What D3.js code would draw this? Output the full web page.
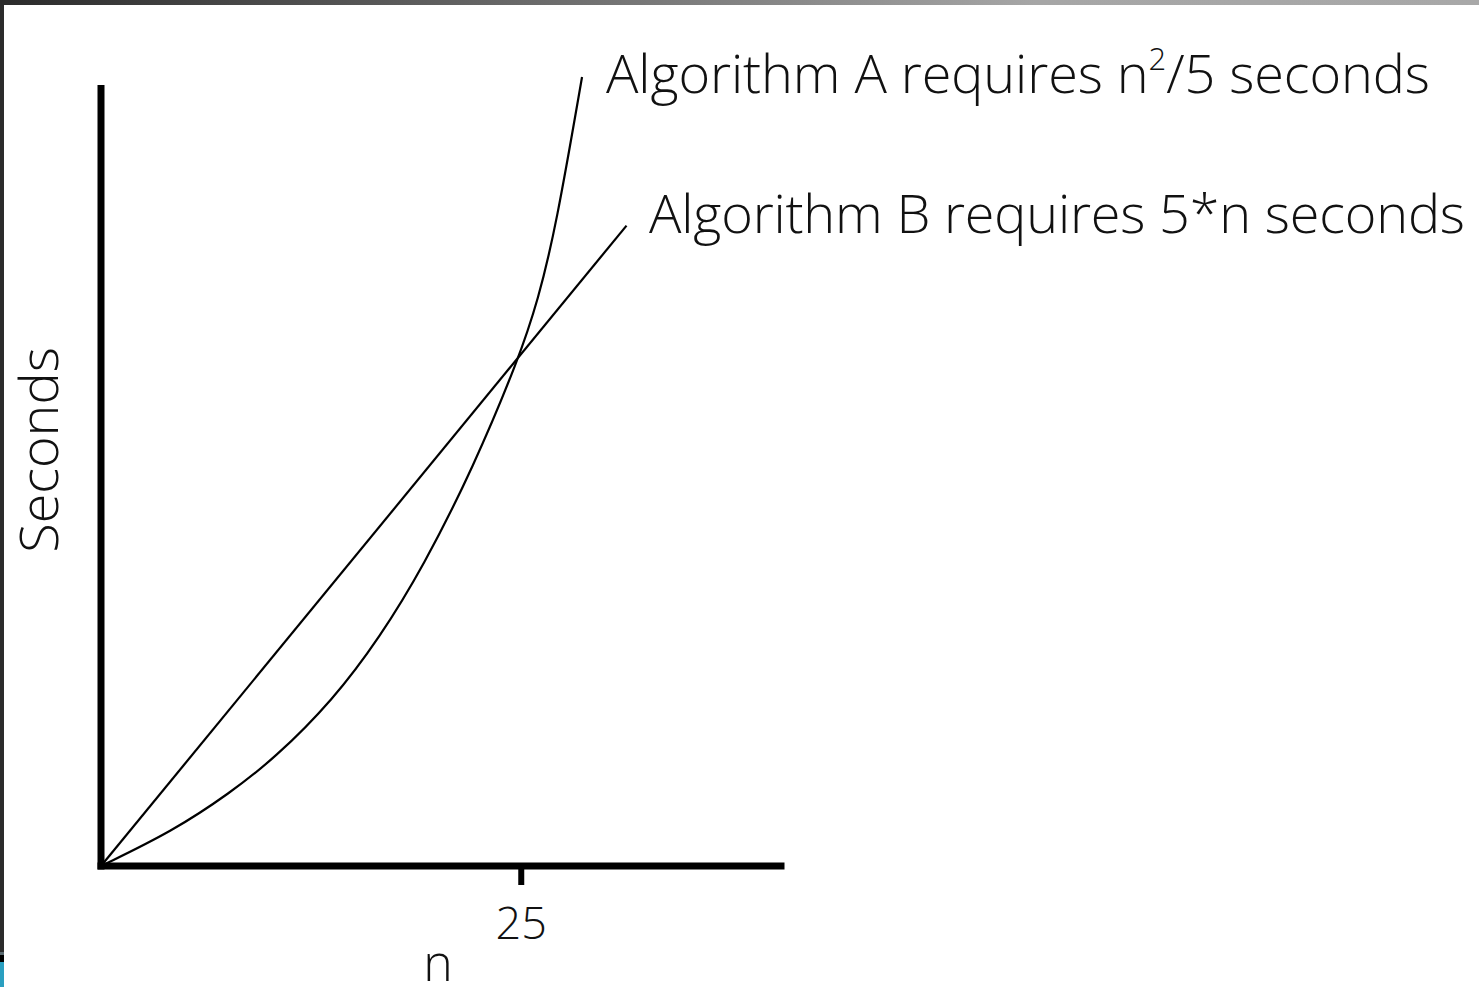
<!DOCTYPE html>
<html>
<head>
<meta charset="utf-8">
<script src="https://cdn.jsdelivr.net/npm/d3@7/dist/d3.min.js"></script>
<style>
  html, body { margin: 0; padding: 0; background: #fff; }
  svg { display: block; }
  text { font-family: "Open Sans", "Segoe UI", sans-serif; font-weight: 300; fill: #111; }
</style>
</head>
<body>
<svg id="chart" width="1479" height="987"></svg>
<script>
// Input size n and running time in seconds
const nA = [0, 4.29, 7.68, 10.36, 13.82, 16.62, 19.18, 22.16, 24.90, 26.03, 27.10, 28.65];
const secondsA = [0, 8.55, 17.84, 26.39, 40.57, 55.96, 73.07, 97.26, 124.14, 138.32, 156.16, 192.82];
const nB = [0, 31.3];
const secondsB = [0, 156.5];
const xTicks = [25];
const labelA = ["Algorithm A requires n", "2", "/5 seconds"];
const labelB = "Algorithm B requires 5*n seconds";
const xTitle = "n";
const yTitle = "Seconds";

const svg = d3.select("#chart");
const W = 1479, H = 987;

// window frame
const grad = svg.append("defs").append("linearGradient")
  .attr("id", "topbar").attr("x1", "0").attr("x2", "1");
grad.append("stop").attr("offset", "0").attr("stop-color", "#2b2b2b");
grad.append("stop").attr("offset", "0.7").attr("stop-color", "#a6a6a6");
grad.append("stop").attr("offset", "1").attr("stop-color", "#a8a8a8");
svg.append("rect").attr("x", 0).attr("y", 0).attr("width", W).attr("height", 5).attr("fill", "url(#topbar)");
svg.append("rect").attr("x", 0).attr("y", 0).attr("width", 4).attr("height", 952).attr("fill", "#2b2b2b");
svg.append("rect").attr("x", 0).attr("y", 952).attr("width", 4).attr("height", 3).attr("fill", "#5a6a70");
svg.append("rect").attr("x", 0).attr("y", 955).attr("width", 4).attr("height", 7).attr("fill", "#000");
svg.append("rect").attr("x", 0).attr("y", 962).attr("width", 4).attr("height", 25).attr("fill", "#2a9fc0");

const x = d3.scaleLinear().domain([0, 40.5]).range([101, 781]);
const y = d3.scaleLinear().domain([0, 190]).range([866, 88.5]);

// axes
const xAxis = svg.append("g").attr("transform", `translate(0,${y(0)})`)
  .call(d3.axisBottom(x).tickValues(xTicks).tickSize(19).tickSizeOuter(0).tickPadding(22).tickFormat(d3.format("d")));
xAxis.select(".domain").attr("stroke", "#000").attr("stroke-width", 7).attr("stroke-linecap", "square").attr("d", `M${x(0)},0H${x(40.5)}`);
xAxis.selectAll(".tick line").attr("stroke", "#000").attr("stroke-width", 6);
xAxis.selectAll(".tick text").attr("fill", "#111").attr("font-family", null).attr("font-size", null).style("font-size", "45px");

const yAxis = svg.append("g").attr("transform", `translate(${x(0)},0)`)
  .call(d3.axisLeft(y).tickValues([]).tickSizeOuter(0));
yAxis.select(".domain").attr("stroke", "#000").attr("stroke-width", 7).attr("stroke-linecap", "square").attr("d", `M0,${y(0)}V${y(190)}`);

// curves
const ptsA = nA.map((n, i) => [n, secondsA[i]]);
const ptsB = nB.map((n, i) => [n, secondsB[i]]);

svg.append("path").datum(ptsA)
  .attr("d", d3.line().x(d => x(d[0])).y(d => y(d[1])).curve(d3.curveBasis))
  .attr("fill", "none").attr("stroke", "#000").attr("stroke-width", 2.2);
svg.append("path").datum(ptsB)
  .attr("d", d3.line().x(d => x(d[0])).y(d => y(d[1])))
  .attr("fill", "none").attr("stroke", "#000").attr("stroke-width", 2.2);

// curve labels
const tA = svg.append("text").attr("x", 606).attr("y", 93).style("font-size", "54px")
  .attr("textLength", 824).attr("lengthAdjust", "spacing");
tA.append("tspan").text(labelA[0]);
tA.append("tspan").text(labelA[1]).attr("dy", -23).style("font-size", "31px");
tA.append("tspan").text(labelA[2]).attr("dy", 23);

svg.append("text").attr("x", 649).attr("y", 233).style("font-size", "54px")
  .attr("textLength", 816).attr("lengthAdjust", "spacing").text(labelB);

// axis titles
svg.append("text").attr("x", 438).attr("y", 981).attr("text-anchor", "middle").style("font-size", "50px").text(xTitle);
svg.append("text").attr("transform", "translate(58,450) rotate(-90)").attr("text-anchor", "middle").style("font-size", "54px").text(yTitle);
</script>
</body>
</html>
